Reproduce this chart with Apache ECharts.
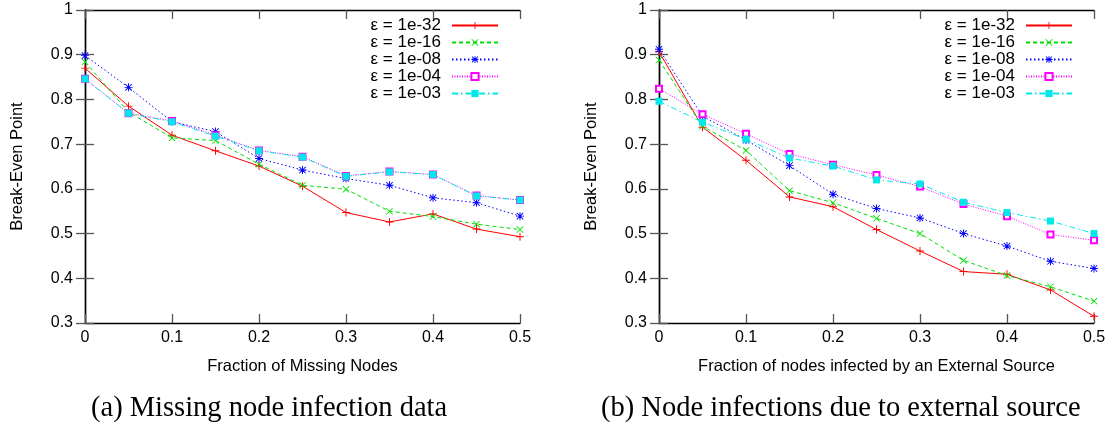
<!DOCTYPE html>
<html>
<head>
<meta charset="utf-8">
<script src="https://cdn.jsdelivr.net/npm/echarts@6/dist/echarts.min.js"></script>
<style>
  html, body { margin: 0; padding: 0; background: #fff; }
  #chart { width: 1115px; height: 426px; }
</style>
</head>
<body>
<div id="chart"></div>
<script>
// Fractions on the horizontal axis (shared by both panels)
const fractions = [0, 0.05, 0.1, 0.15, 0.2, 0.25, 0.3, 0.35, 0.4, 0.45, 0.5];
const seriesNames = ['ε = 1e-32', 'ε = 1e-16', 'ε = 1e-08', 'ε = 1e-04', 'ε = 1e-03'];

// (a) Missing node infection data
const missingEps32 = [0.870, 0.785, 0.720, 0.685, 0.651, 0.606, 0.547, 0.526, 0.544, 0.510, 0.493];
const missingEps16 = [0.884, 0.772, 0.714, 0.708, 0.655, 0.608, 0.599, 0.550, 0.538, 0.521, 0.509];
const missingEps08 = [0.898, 0.827, 0.750, 0.728, 0.668, 0.642, 0.623, 0.608, 0.580, 0.569, 0.539];
const missingEps04 = [0.846, 0.769, 0.752, 0.720, 0.686, 0.672, 0.629, 0.639, 0.632, 0.585, 0.575];
const missingEps03 = [0.846, 0.769, 0.750, 0.718, 0.685, 0.671, 0.628, 0.638, 0.632, 0.584, 0.575];

// (b) Node infections due to external source
const externalEps32 = [0.907, 0.738, 0.664, 0.582, 0.560, 0.509, 0.461, 0.415, 0.409, 0.374, 0.315];
const externalEps16 = [0.888, 0.740, 0.686, 0.596, 0.569, 0.534, 0.500, 0.440, 0.406, 0.381, 0.349];
const externalEps08 = [0.912, 0.763, 0.709, 0.652, 0.588, 0.556, 0.535, 0.500, 0.472, 0.438, 0.422];
const externalEps04 = [0.824, 0.767, 0.723, 0.678, 0.654, 0.631, 0.605, 0.566, 0.539, 0.498, 0.485];
const externalEps03 = [0.796, 0.749, 0.711, 0.669, 0.651, 0.620, 0.611, 0.570, 0.547, 0.528, 0.500];

const yTicks = { min: 0.3, max: 1, interval: 0.1 };
const xTicks = { min: 0, max: 0.5, interval: 0.1 };

const xTitles = ['Fraction of Missing Nodes', 'Fraction of nodes infected by an External Source'];
const yTitle = 'Break-Even Point';
const captions = ['(a) Missing node infection data', '(b) Node infections due to external source'];

// Point marks in the style of gnuplot point types
const PLUS = 'path://M4.4,0H5.6V4.4H10V5.6H5.6V10H4.4V5.6H0V4.4H4.4Z';
const CROSS = 'path://M1,0.2L5,4.2L9,0.2L9.8,1L5.8,5L9.8,9L9,9.8L5,5.8L1,9.8L0.2,9L4.2,5L0.2,1Z';
const STAR = 'path://M4.4,0H5.6V4.4H10V5.6H5.6V10H4.4V5.6H0V4.4H4.4Z' +
             'M1.4,0.6L5,4.2L8.6,0.6L9.4,1.4L5.8,5L9.4,8.6L8.6,9.4L5,5.8L1.4,9.4L0.6,8.6L4.2,5L0.6,1.4Z';

const styles = [
  { color: '#ff0000', symbol: PLUS, size: 8, line: 'solid' },
  { color: '#00e000', symbol: CROSS, size: 7, line: [4, 3] },
  { color: '#0000ff', symbol: STAR, size: 8, line: [1.5, 2.5] },
  { color: '#ff00ff', symbol: 'emptyRect', size: 6, line: [1, 1.5] },
  { color: '#00e8e8', symbol: 'rect', size: 7, line: [6, 3, 1.5, 3] }
];

const panelData = [
  [missingEps32, missingEps16, missingEps08, missingEps04, missingEps03],
  [externalEps32, externalEps16, externalEps08, externalEps04, externalEps03]
];

const FONT = '"Liberation Sans", Arial, Helvetica, sans-serif';

const grids = [
  { left: 85, right: 595, top: 10, bottom: 103 },
  { left: 659, right: 21, top: 10, bottom: 103 }
];

const xAxes = [], yAxes = [], series = [], legends = [];

grids.forEach((g, gi) => {
  const frame = { show: true, lineStyle: { color: '#000', width: 1.4 } };
  const tick = { show: true, inside: true, length: 9, lineStyle: { color: '#555', width: 1.3 } };
  xAxes.push({
    type: 'value', gridIndex: gi, position: 'bottom',
    min: xTicks.min, max: xTicks.max, interval: xTicks.interval,
    axisLine: frame, axisTick: tick, splitLine: { show: false },
    axisLabel: { color: '#000', fontFamily: FONT, fontSize: 16, margin: 7 },
    name: xTitles[gi], nameLocation: 'middle', nameGap: 35,
    nameTextStyle: { color: '#000', fontFamily: FONT, fontSize: 16.5 }
  });
  xAxes.push({
    type: 'value', gridIndex: gi, position: 'top',
    min: xTicks.min, max: xTicks.max, interval: xTicks.interval,
    axisLine: frame, axisTick: tick, splitLine: { show: false },
    axisLabel: { show: false }
  });
  yAxes.push({
    type: 'value', gridIndex: gi, position: 'left',
    min: yTicks.min, max: yTicks.max, interval: yTicks.interval,
    axisLine: frame, axisTick: tick, splitLine: { show: false },
    axisLabel: { color: '#000', fontFamily: FONT, fontSize: 16, margin: 12 },
    name: yTitle, nameLocation: 'middle', nameGap: 59, nameRotate: 90,
    nameTextStyle: { color: '#000', fontFamily: FONT, fontSize: 16.5 }
  });
  yAxes.push({
    type: 'value', gridIndex: gi, position: 'right',
    min: yTicks.min, max: yTicks.max, interval: yTicks.interval,
    axisLine: frame, axisTick: tick, splitLine: { show: false },
    axisLabel: { show: false }
  });

  panelData[gi].forEach((vals, si) => {
    const s = styles[si];
    series.push({
      name: seriesNames[si],
      type: 'line',
      xAxisIndex: gi * 2,
      yAxisIndex: gi * 2,
      data: fractions.map((x, i) => [x, vals[i]]),
      symbol: s.symbol,
      symbolSize: s.size,
      showAllSymbol: true,
      animation: false,
      itemStyle: { color: s.color, borderColor: s.color, borderWidth: s.symbol === 'emptyRect' ? 1.2 : 0 },
      lineStyle: { color: s.color, width: 1, type: s.line },
      emphasis: { disabled: true },
      z: 2 + si
    });
  });

  legends.push({
    orient: 'vertical',
    right: gi === 0 ? 616 : 42,
    top: 17,
    padding: 0,
    align: 'right',
    itemWidth: 46,
    itemHeight: 9,
    itemGap: 0,
    selectedMode: false,
    data: seriesNames,
    textStyle: { color: '#000', fontFamily: FONT, fontSize: 17, lineHeight: 17, padding: [0, 6, 0, 0] }
  });
});

const chart = echarts.init(document.getElementById('chart'), null, { renderer: 'canvas' });
chart.setOption({
  animation: false,
  backgroundColor: '#fff',
  grid: grids,
  xAxis: xAxes,
  yAxis: yAxes,
  legend: legends,
  series: series,
  graphic: [
    { type: 'text', left: 91, top: 394,
      style: { text: captions[0], font: '28.5px "Liberation Serif", "Times New Roman", serif', fill: '#000' } },
    { type: 'text', left: 601, top: 394,
      style: { text: captions[1], font: '28.5px "Liberation Serif", "Times New Roman", serif', fill: '#000' } }
  ]
});
</script>
</body>
</html>
